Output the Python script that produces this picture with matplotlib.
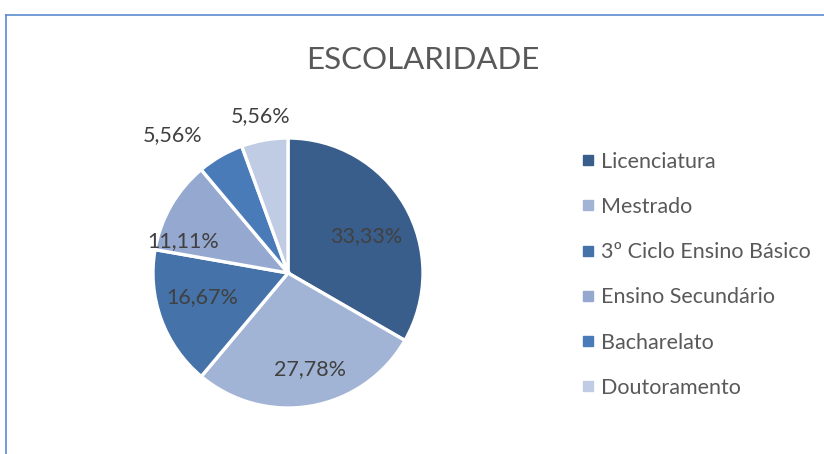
import numpy as np
import matplotlib
matplotlib.use("Agg")
import matplotlib.pyplot as plt
from matplotlib.lines import Line2D

categories = ["Licenciatura", "Mestrado", "3º Ciclo Ensino Básico",
              "Ensino Secundário", "Bacharelato", "Doutoramento"]
values = [33.33, 27.78, 16.67, 11.11, 5.56, 5.56]
colors = ["#3a5e8c", "#a2b4d5", "#4472a9", "#95a8cf", "#4a7bb9", "#c0cce3"]

# label placement (fraction of radius, angle shift in degrees)
label_r = [0.64, 0.73, 0.66, 0.81, 1.33, 1.18]
label_shift = [-5, 3, -4, 13, 10, 0]

plt.rcParams["font.family"] = ["Lato", "DejaVu Sans"]

fig = plt.figure(figsize=(8.24, 4.54), dpi=100)
W, H = 824, 454
cx, cy, R = 288, 273, 135
ax = fig.add_axes([(cx - R) / W, (H - cy - R) / H, 2 * R / W, 2 * R / H])

wedges, _ = ax.pie(values, colors=colors, startangle=90, counterclock=False,
                   wedgeprops=dict(edgecolor="white", linewidth=2.4))
ax.set_xlim(-1, 1)
ax.set_ylim(-1, 1)
ax.set_aspect("equal")

# percentage labels
start = 90.0
total = sum(values)
for i, v in enumerate(values):
    span = 360.0 * v / total
    mid = np.deg2rad(start - span / 2 + label_shift[i])
    start -= span
    txt = f"{v:.2f}".replace(".", ",") + "%"
    ax.text(label_r[i] * np.cos(mid), label_r[i] * np.sin(mid), txt,
            ha="center", va="center", fontsize=15.5, color="#404040",
            clip_on=False)

fig.text(0.513, 0.868, "ESCOLARIDADE", ha="center", va="center",
         fontsize=22.5, color="#595959")

handles = [Line2D([], [], marker="s", linestyle="none", markersize=6.5,
                  markerfacecolor=c, markeredgecolor=c) for c in colors]
fig.legend(handles, categories, loc="upper left",
           bbox_to_anchor=(571 / W, 1 - 141 / H), frameon=False,
           fontsize=15.5, labelcolor="#595959", handlelength=0.6,
           handletextpad=0.3, labelspacing=1.17, borderpad=0)

# chart frame (extends beyond the image on right and bottom)
fig.add_artist(Line2D([6 / W, 6 / W], [0, 1 - 15 / H], color="#5b8bd0",
                      linewidth=1.2, transform=fig.transFigure))
fig.add_artist(Line2D([6 / W, 1], [1 - 15 / H, 1 - 15 / H], color="#5b8bd0",
                      linewidth=1.2, transform=fig.transFigure))

fig.savefig("out.png", dpi=100)
